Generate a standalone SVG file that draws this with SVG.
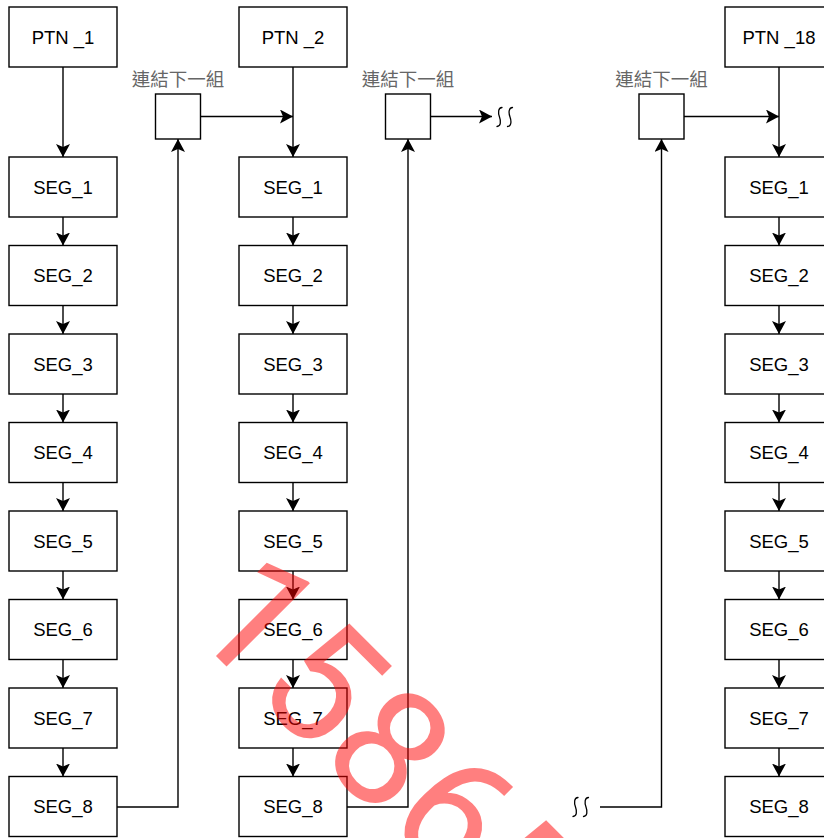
<svg xmlns="http://www.w3.org/2000/svg" width="824" height="838" viewBox="0 0 824 838">
<defs>
<style>
.box{fill:#fff;stroke:#000;stroke-width:1.4}
.t{font-family:"Liberation Sans",Arial,sans-serif;font-size:18.5px;fill:#000;text-anchor:middle}
.lbl{font-family:"Liberation Sans","Noto Sans CJK TC",sans-serif;font-size:18.5px;fill:#666;text-anchor:middle}
.ln{fill:none;stroke:#000;stroke-width:1.4}
.arr{marker-end:url(#ah)}
.sq{fill:none;stroke:#000;stroke-width:1.3;stroke-linecap:round}
.wm{font-family:Roboto,"Liberation Sans",sans-serif;font-size:165px;fill:#ff0000;fill-opacity:0.5}
</style>
<marker id="ah" markerUnits="userSpaceOnUse" viewBox="0 0 13 14" markerWidth="13" markerHeight="14" refX="13" refY="7" orient="auto">
<path d="M0,0 L13,7 L0,14 L3,7 Z" fill="#000"/>
</marker>
</defs>
<rect width="824" height="838" fill="#fff"/>

<g id="connectors">
<path class="ln arr" d="M63,67 V157"/>
<path class="ln arr" d="M63,217 V245.5"/>
<path class="ln arr" d="M63,305.5 V334"/>
<path class="ln arr" d="M63,394 V422.5"/>
<path class="ln arr" d="M63,482.5 V511"/>
<path class="ln arr" d="M63,571 V599.5"/>
<path class="ln arr" d="M63,659.5 V688"/>
<path class="ln arr" d="M63,748 V776.5"/>
<path class="ln arr" d="M117,807 H178 V139"/>
<path class="ln arr" d="M200.5,116.5 H293"/>
<path class="ln arr" d="M293,67 V157"/>
<path class="ln arr" d="M293,217 V245.5"/>
<path class="ln arr" d="M293,305.5 V334"/>
<path class="ln arr" d="M293,394 V422.5"/>
<path class="ln arr" d="M293,482.5 V511"/>
<path class="ln arr" d="M293,571 V599.5"/>
<path class="ln arr" d="M293,659.5 V688"/>
<path class="ln arr" d="M293,748 V776.5"/>
<path class="ln arr" d="M347,807 H408 V139"/>
<path class="ln arr" d="M430.5,116.5 H492"/>
<path class="ln arr" d="M779,67 V157"/>
<path class="ln arr" d="M779,217 V245.5"/>
<path class="ln arr" d="M779,305.5 V334"/>
<path class="ln arr" d="M779,394 V422.5"/>
<path class="ln arr" d="M779,482.5 V511"/>
<path class="ln arr" d="M779,571 V599.5"/>
<path class="ln arr" d="M779,659.5 V688"/>
<path class="ln arr" d="M779,748 V776.5"/>
<path class="ln arr" d="M600,807 H661.5 V139"/>
<path class="ln arr" d="M684,116.5 H779"/>
</g>

<g id="break-top">
<path class="sq" d="M502,107.5 C498,107.5 498,113 499.5,117 C501,121 501,126.5 497,126.5"/>
<path class="sq" d="M512.5,107.5 C508.5,107.5 508.5,113 510,117 C511.5,121 511.5,126.5 507.5,126.5"/>
</g>
<g id="break-bottom">
<path class="sq" d="M578,797.5 C574,797.5 574,803 575.5,807 C577,811 577,816.5 573,816.5"/>
<path class="sq" d="M588.5,797.5 C584.5,797.5 584.5,803 586,807 C587.5,811 587.5,816.5 583.5,816.5"/>
</g>

<g id="ptn1"><rect class="box" x="9" y="7" width="108" height="60"/><text class="t" x="63" y="43.6">PTN _1</text></g>
<g id="c1seg1"><rect class="box" x="9" y="157" width="108" height="60"/><text class="t" x="63" y="193.6">SEG_1</text></g>
<g id="c1seg2"><rect class="box" x="9" y="245.5" width="108" height="60"/><text class="t" x="63" y="282.1">SEG_2</text></g>
<g id="c1seg3"><rect class="box" x="9" y="334" width="108" height="60"/><text class="t" x="63" y="370.6">SEG_3</text></g>
<g id="c1seg4"><rect class="box" x="9" y="422.5" width="108" height="60"/><text class="t" x="63" y="459.1">SEG_4</text></g>
<g id="c1seg5"><rect class="box" x="9" y="511" width="108" height="60"/><text class="t" x="63" y="547.6">SEG_5</text></g>
<g id="c1seg6"><rect class="box" x="9" y="599.5" width="108" height="60"/><text class="t" x="63" y="636.1">SEG_6</text></g>
<g id="c1seg7"><rect class="box" x="9" y="688" width="108" height="60"/><text class="t" x="63" y="724.6">SEG_7</text></g>
<g id="c1seg8"><rect class="box" x="9" y="776.5" width="108" height="60"/><text class="t" x="63" y="813.1">SEG_8</text></g>
<g id="link1"><rect class="box" x="155.5" y="94" width="45" height="45"/><text class="lbl" x="178" y="86">連結下一組</text></g>

<g id="ptn2"><rect class="box" x="239" y="7" width="108" height="60"/><text class="t" x="293" y="43.6">PTN _2</text></g>
<g id="c2seg1"><rect class="box" x="239" y="157" width="108" height="60"/><text class="t" x="293" y="193.6">SEG_1</text></g>
<g id="c2seg2"><rect class="box" x="239" y="245.5" width="108" height="60"/><text class="t" x="293" y="282.1">SEG_2</text></g>
<g id="c2seg3"><rect class="box" x="239" y="334" width="108" height="60"/><text class="t" x="293" y="370.6">SEG_3</text></g>
<g id="c2seg4"><rect class="box" x="239" y="422.5" width="108" height="60"/><text class="t" x="293" y="459.1">SEG_4</text></g>
<g id="c2seg5"><rect class="box" x="239" y="511" width="108" height="60"/><text class="t" x="293" y="547.6">SEG_5</text></g>
<g id="c2seg6"><rect class="box" x="239" y="599.5" width="108" height="60"/><text class="t" x="293" y="636.1">SEG_6</text></g>
<g id="c2seg7"><rect class="box" x="239" y="688" width="108" height="60"/><text class="t" x="293" y="724.6">SEG_7</text></g>
<g id="c2seg8"><rect class="box" x="239" y="776.5" width="108" height="60"/><text class="t" x="293" y="813.1">SEG_8</text></g>
<g id="link2"><rect class="box" x="385.5" y="94" width="45" height="45"/><text class="lbl" x="408" y="86">連結下一組</text></g>

<g id="ptn18"><rect class="box" x="725" y="7" width="108" height="60"/><text class="t" x="779" y="43.6">PTN _18</text></g>
<g id="c3seg1"><rect class="box" x="725" y="157" width="108" height="60"/><text class="t" x="779" y="193.6">SEG_1</text></g>
<g id="c3seg2"><rect class="box" x="725" y="245.5" width="108" height="60"/><text class="t" x="779" y="282.1">SEG_2</text></g>
<g id="c3seg3"><rect class="box" x="725" y="334" width="108" height="60"/><text class="t" x="779" y="370.6">SEG_3</text></g>
<g id="c3seg4"><rect class="box" x="725" y="422.5" width="108" height="60"/><text class="t" x="779" y="459.1">SEG_4</text></g>
<g id="c3seg5"><rect class="box" x="725" y="511" width="108" height="60"/><text class="t" x="779" y="547.6">SEG_5</text></g>
<g id="c3seg6"><rect class="box" x="725" y="599.5" width="108" height="60"/><text class="t" x="779" y="636.1">SEG_6</text></g>
<g id="c3seg7"><rect class="box" x="725" y="688" width="108" height="60"/><text class="t" x="779" y="724.6">SEG_7</text></g>
<g id="c3seg8"><rect class="box" x="725" y="776.5" width="108" height="60"/><text class="t" x="779" y="813.1">SEG_8</text></g>
<g id="link18"><rect class="box" x="639" y="94" width="45" height="45"/><text class="lbl" x="661.5" y="86">連結下一組</text></g>

<g id="watermark"><text class="wm" transform="translate(185,625) rotate(45)">15865</text></g>
</svg>
